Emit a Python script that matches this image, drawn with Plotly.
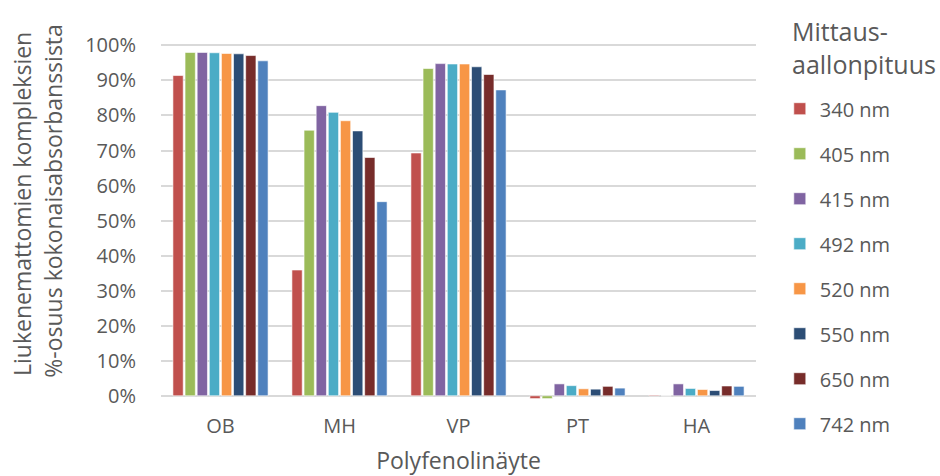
import plotly.graph_objects as go

# Sample categories (x axis) and wavelength series
samples = ["OB", "MH", "VP", "PT", "HA"]
wavelengths = ["340 nm", "405 nm", "415 nm", "492 nm", "520 nm", "550 nm", "650 nm", "742 nm"]

# Share (%) of insoluble complexes of total absorbance, per wavelength
v340 = [91.4, 35.9, 69.3, -0.8, 0.2]
v405 = [98.0, 75.8, 93.4, -0.8, 0.0]
v415 = [98.0, 82.8, 94.8, 3.4, 3.4]
v492 = [97.9, 80.9, 94.7, 2.9, 2.1]
v520 = [97.7, 78.5, 94.7, 2.0, 1.8]
v550 = [97.6, 75.6, 93.9, 1.9, 1.5]
v650 = [97.1, 68.0, 91.7, 2.7, 2.8]
v742 = [95.6, 55.4, 87.3, 2.2, 2.7]

series = [v340, v405, v415, v492, v520, v550, v650, v742]
colors = ["#C0504D", "#9BBB59", "#8064A2", "#4BACC6", "#F79646", "#2C4D75", "#772C2A", "#4F81BD"]

y_ticks = [0, 10, 20, 30, 40, 50, 60, 70, 80, 90, 100]
y_ticktext = ["0%", "10%", "20%", "30%", "40%", "50%", "60%", "70%", "80%", "90%", "100%"]

FONT = "Open Sans"
GREY = "#595959"

fig = go.Figure()
for i, (name, vals, col) in enumerate(zip(wavelengths, series, colors)):
    fig.add_trace(go.Bar(
        x=samples, y=vals, name=name,
        marker=dict(color=col, line=dict(color="rgba(255,255,255,0.6)", width=1)),
        legendgroup=f"g{i}",
    ))

fig.update_layout(
    width=940, height=476,
    margin=dict(l=161, r=184, t=44, b=76, autoexpand=False),
    paper_bgcolor="white", plot_bgcolor="white",
    barmode="group", bargap=0.185, bargroupgap=0.15,
    font=dict(family=FONT, size=20, color=GREY),
    xaxis=dict(
        showgrid=False, showline=False, zeroline=False, automargin=False,
        ticks="outside", ticklen=8, tickcolor="rgba(0,0,0,0)",
        tickfont=dict(size=20, color=GREY),
        title=dict(text="Polyfenolinäyte", font=dict(size=23, color=GREY), standoff=25),
    ),
    yaxis=dict(
        range=[-1.2, 100.4], automargin=False,
        tickvals=y_ticks, ticktext=y_ticktext,
        showgrid=True, gridcolor="#D9D9D9", gridwidth=1.5,
        zeroline=True, zerolinecolor="#D9D9D9", zerolinewidth=1.5,
        showline=False,
        ticks="outside", ticklen=20, tickcolor="rgba(0,0,0,0)",
        tickfont=dict(size=20, color=GREY),
    ),
    legend=dict(
        x=1.04, y=0.873, xanchor="left", yanchor="top",
        font=dict(size=20, color=GREY),
        tracegroupgap=16, traceorder="grouped",
        bgcolor="rgba(0,0,0,0)",
        maxheight=476,
    ),
    annotations=[
        dict(text="Liukenemattomien kompleksien", xref="paper", yref="paper",
             x=-0.2336, y=0.5506, xanchor="center", yanchor="middle",
             textangle=-90, showarrow=False, font=dict(size=23, color=GREY)),
        dict(text="%-osuus kokonaisabsorbanssista", xref="paper", yref="paper",
             x=-0.182, y=0.559, xanchor="center", yanchor="middle",
             textangle=-90, showarrow=False, font=dict(size=23, color=GREY)),
        # legend heading
        dict(text="Mittaus-<br>aallonpituus", xref="paper", yref="paper",
             x=1.0572, y=0.989, xanchor="left", yanchor="middle", align="left",
             showarrow=False, font=dict(size=25, color=GREY)),
    ],
)

fig.write_html("out.html")
